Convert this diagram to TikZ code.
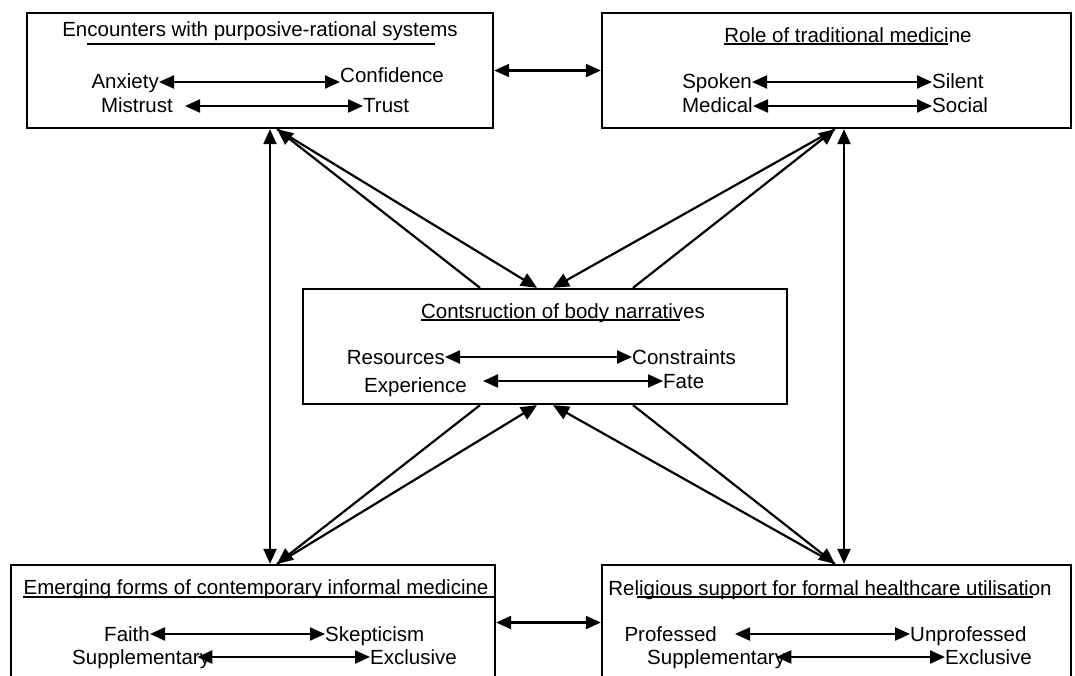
\documentclass[tikz,border=0pt]{standalone}
\usepackage{fontspec}
\setmainfont{Liberation Sans}
\usetikzlibrary{positioning, calc, arrows.meta}

\begin{document}
\begin{tikzpicture}[x=1pt,y=-1pt, box/.style={shape=rectangle, draw, line width=2.3pt, minimum height=115pt, inner sep=0pt}, lbl/.style={inner sep=0pt, font=\fontsize{20.5}{22}\selectfont, text height=14pt, text depth=0pt}, ttl/.style={inner sep=0pt, font=\fontsize{20.5}{22}\selectfont}, uline/.style={line width=1.4pt}, pair/.style={{Triangle[length=15pt,width=13pt]}-{Triangle[length=15pt,width=13pt]}, line width=2.2pt}, link/.style={-{Triangle[length=16pt,width=14pt]}, line width=2.2pt}]
\clip (0,0) rectangle (1075,676);
\node[box, minimum width=466pt] (enc) at (260,70.5) {};
\node[box, minimum width=469pt] (role) at (836.5,70.5) {};
\node[box, minimum width=484pt] (body) at (545,346.5) {};
\node[box, minimum width=484pt] (emer) at (253,622.5) {};
\node[box, minimum width=469pt] (rel) at (836.5,622.5) {};

\node[ttl, anchor=base] (enc title) at (260,37) {Encounters with purposive-rational systems};
\node[ttl, anchor=base] (role title) at (848,43) {Role of traditional medicine};
\node[ttl, anchor=base] (body title) at (563,318) {Contsruction of body narratives};
\node[ttl, anchor=base] (emer title) at (256,594) {Emerging forms of contemporary informal medicine};
\node[ttl, anchor=base] (rel title) at (830,595) {Religious support for formal healthcare utilisation};
\draw[uline] (87,44) -- (435,44);
\draw[uline] ([yshift=-1pt]role title.base west) -- ++(224,0);
\draw[uline] ([yshift=-2pt]body title.base west) -- ++(259,0);
\draw[uline] ([yshift=-3pt]emer title.base west) -- ([yshift=-3pt]emer title.base west -| emer.east);
\draw[uline] (637,597) -- (1033,597);

\foreach \n/\x/\y/\t in {anx/159/82/Anxiety, mis/173/106/Mistrust, spo/752/82/Spoken, med/753/106/Medical, res/445/357/Resources, exp/467/385/Experience, fai/150/634/Faith, pro/717/634/Professed}
	\node[lbl, anchor=east] (\n) at (\x,\y) {\t};
\foreach \n/\x/\y/\t in {conf/340/76/Confidence, tru/363/106/Trust, sil/932/82/Silent, soc/932/106/Social, con/632/357/Constraints, fat/663/381/Fate, ske/325/634/Skepticism, exc/370/657/Exclusive, unp/910/634/Unprofessed, exc2/945/657/Exclusive}
	\node[lbl, anchor=west] (\n) at (\x,\y) {\t};
\node[lbl, anchor=west] (sup) at (72,657) {Supplementary};
\node[lbl, anchor=west] (sup2) at (647,657) {Supplementary};

\foreach \a/\b/\s in {anx/conf/0pt, mis/tru/12pt, spo/sil/0pt, med/soc/0pt, res/con/0pt, fai/ske/0pt, pro/unp/18pt, sup/exc/-13pt, sup2/exc2/-9pt}
	\draw[pair, shorten <=\s] (\a.east) -- (\a.east -| \b.west);
\draw[pair, shorten <=16pt] (exp.east |- fat.west) -- (fat.west);

\draw[pair] (enc.east) -- (role.west);
\draw[pair] (emer.east) -- (rel.west);
\draw[pair] ([xshift=10pt]enc.south) -- ([xshift=17pt]emer.north);
\draw[pair] ([xshift=7.5pt]role.south) -- ([xshift=7.5pt]rel.north);

\coordinate (hub enc) at ([xshift=17pt]enc.south);
\coordinate (hub role) at ([xshift=-1.5pt]role.south);
\coordinate (hub emer) at ([xshift=24pt]emer.north);
\coordinate (hub rel) at ([xshift=-1.5pt]rel.north);
\foreach \c/\side/\in/\out in {tl/north/-8/-65, tr/north/8/88, bl/south/-8/-65, br/south/8/88} {
	\coordinate (body in \c) at ([xshift=\in pt]body.\side);
	\coordinate (body out \c) at ([xshift=\out pt]body.\side);
}
\foreach \o/\c in {enc/tl, role/tr, emer/bl, rel/br} {
	\draw[link] (hub \o) -- (body in \c);
	\draw[link] (body out \c) -- (hub \o);
}
\end{tikzpicture}
\end{document}
